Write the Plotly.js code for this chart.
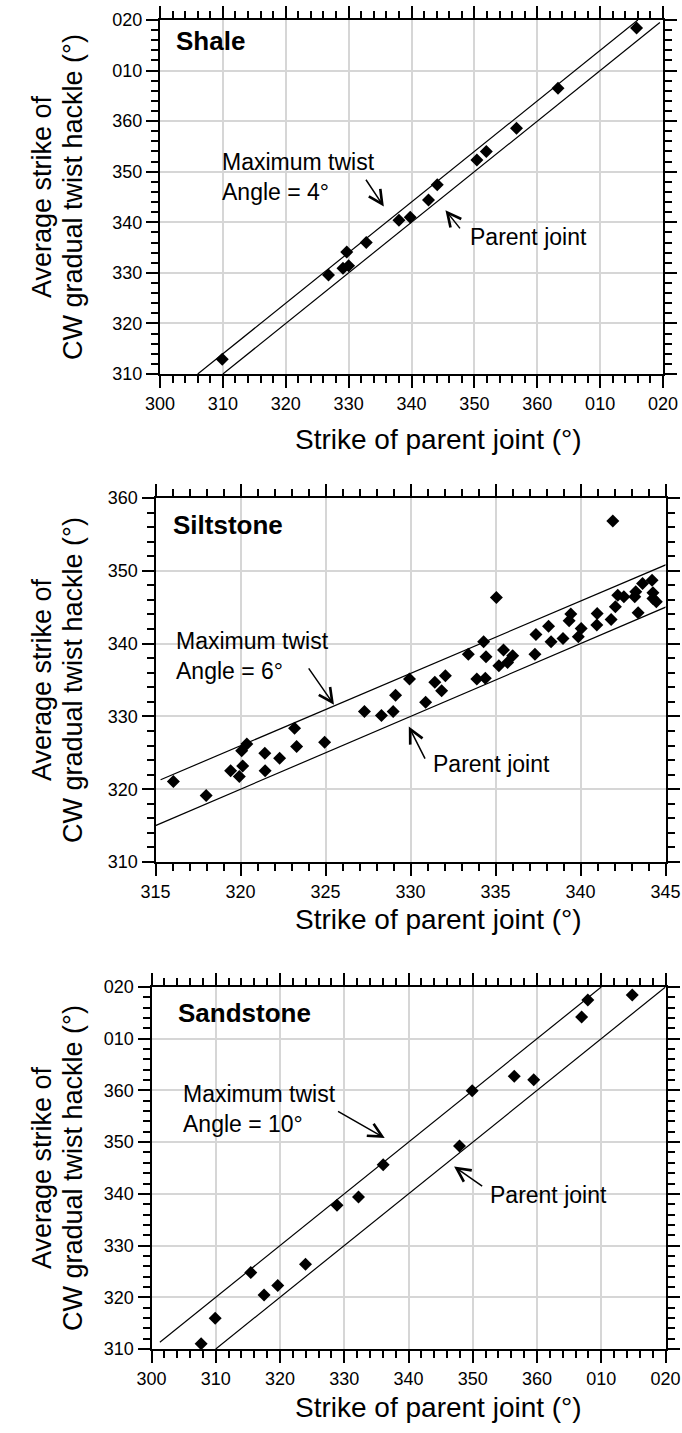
<!DOCTYPE html>
<html>
<head>
<meta charset="utf-8">
<script src="https://cdn.plot.ly/plotly-3.0.1.min.js"></script>
<style>html,body{margin:0;padding:0;background:#fff;}#chart{width:682px;height:1433px;}</style>
</head>
<body>
<div id="chart"></div>
<script>
// ---------- data ----------
const shaleX = [309.9, 326.8, 329.1, 330.0, 329.7, 332.8, 338.0, 339.8, 342.7, 344.1, 350.4, 351.9, 356.7, 363.3, 375.8];
const shaleY = [312.9, 329.6, 330.9, 331.4, 334.1, 336.0, 340.4, 341.0, 344.4, 347.4, 352.3, 354.0, 358.6, 366.5, 378.4];
const shaleParentX = [310, 379.5];
const shaleParentY = [310, 379.5];
const shaleTwistX = [306, 376];
const shaleTwistY = [310, 380];

const siltX = [316.05, 317.98, 319.42, 319.93, 320.13, 320.07, 320.37, 321.43, 321.45, 322.3, 323.18, 323.3, 324.95,
  327.29, 328.29, 328.98, 329.12, 329.94, 330.89, 331.43, 331.83, 332.05, 333.4, 333.9, 334.4, 334.3, 334.44, 335.05,
  335.2, 335.47, 335.71, 336.01, 337.32, 337.38, 338.12, 338.27, 338.97, 339.33, 339.43, 339.87, 340.04, 340.96, 340.98,
  341.8, 341.9, 342.05, 342.19, 342.55, 343.19, 343.25, 343.39, 343.65, 344.21, 344.26, 344.26, 344.46];
const siltY = [321.06, 319.14, 322.52, 321.75, 323.2, 325.27, 326.22, 324.95, 322.52, 324.26, 328.37, 325.86, 326.45,
  330.66, 330.11, 330.66, 332.9, 335.14, 331.94, 334.68, 333.54, 335.59, 338.52, 335.14, 335.23, 340.26, 338.2, 346.33,
  336.96, 339.11, 337.42, 338.34, 338.52, 341.26, 342.4, 340.26, 340.71, 343.13, 344.05, 340.94, 342.08, 342.54, 344.14,
  343.32, 356.85, 345.05, 346.65, 346.43, 346.43, 347.11, 344.23, 348.25, 348.71, 346.97, 346.2, 345.74];
const siltParentX = [315, 345.4];
const siltParentY = [315, 345.4];
const siltTwistX = [315.3, 345.4];
const siltTwistY = [321.3, 351.2];

const sandX = [307.72, 309.91, 315.45, 317.52, 319.65, 323.97, 328.87, 332.22, 336.06, 347.94, 349.91, 356.46, 359.49, 366.95, 367.91, 374.83];
const sandY = [311.02, 315.97, 324.77, 320.46, 322.26, 326.37, 337.8, 339.4, 345.64, 349.24, 359.96, 362.72, 362.08, 374.22, 377.5, 378.46];
const sandParentX = [310, 380];
const sandParentY = [310, 380];
const sandTwistX = [301.3, 370];
const sandTwistY = [311.3, 380];

const wrapAlias = {'370': '010', '380': '020'};
const xTitle = 'Strike of parent joint (°)';
const yTitle1 = 'Average strike of';
const yTitle2 = 'CW gradual twist hackle (°)';
const panelNames = ['Shale', 'Siltstone', 'Sandstone'];
const angleTexts = ['Maximum twist<br>Angle = 4°', 'Maximum twist<br>Angle = 6°', 'Maximum twist<br>Angle = 10°'];

// ---------- layout helpers ----------
const W = 682, H = 1433;
const FONT = 'Liberation Sans, Arial, Helvetica, sans-serif';
const dx = (a, b) => [a / W, b / W];
const dy = (t, b) => [1 - b / H, 1 - t / H];

function ax(extra, minorDtick, tick0) {
  return Object.assign({
    showline: true, linecolor: 'black', linewidth: 2, mirror: 'allticks',
    ticks: 'outside', ticklen: 12, tickwidth: 2, tickcolor: '#000000',
    showgrid: true, gridcolor: '#d6d6d6', gridwidth: 2, zeroline: false,
    tickfont: {family: FONT, size: 18, color: 'black'},
    minor: {tick0: tick0, dtick: minorDtick, ticklen: 7, tickwidth: 2, tickcolor: '#000000', ticks: 'outside', showgrid: false}
  }, extra);
}

const P = [
  {x: [160, 663], y: [20, 374], title: 440},
  {x: [155.5, 665.5], y: [498, 862], title: 920},
  {x: [151.5, 665.5], y: [987, 1349], title: 1407}
];

const layout = {
  width: W, height: H, margin: {l: 0, r: 0, t: 0, b: 0},
  paper_bgcolor: 'white', plot_bgcolor: 'white', showlegend: false,
  font: {family: FONT, color: 'black'},
  xaxis: ax({domain: dx(...P[0].x), anchor: 'y', range: [300, 380], tick0: 300, dtick: 10, labelalias: wrapAlias}, 2, 300),
  yaxis: ax({domain: dy(...P[0].y), anchor: 'x', range: [310, 380], tick0: 310, dtick: 10, labelalias: wrapAlias}, 2, 310),
  xaxis2: ax({domain: dx(...P[1].x), anchor: 'y2', range: [315, 345], tick0: 315, dtick: 5}, 1, 315),
  yaxis2: ax({domain: dy(...P[1].y), anchor: 'x2', range: [310, 360], tick0: 310, dtick: 10}, 2, 310),
  xaxis3: ax({domain: dx(...P[2].x), anchor: 'y3', range: [300, 380], tick0: 300, dtick: 10, labelalias: wrapAlias}, 2, 300),
  yaxis3: ax({domain: dy(...P[2].y), anchor: 'x3', range: [310, 380], tick0: 310, dtick: 10, labelalias: wrapAlias}, 2, 310),
  annotations: []
};

const traces = [];
const sets = [
  {xs: shaleX, ys: shaleY, px: shaleParentX, py: shaleParentY, tx: shaleTwistX, ty: shaleTwistY},
  {xs: siltX, ys: siltY, px: siltParentX, py: siltParentY, tx: siltTwistX, ty: siltTwistY},
  {xs: sandX, ys: sandY, px: sandParentX, py: sandParentY, tx: sandTwistX, ty: sandTwistY}
];
sets.forEach((s, i) => {
  const xa = i === 0 ? 'x' : 'x' + (i + 1);
  const ya = i === 0 ? 'y' : 'y' + (i + 1);
  traces.push({type: 'scatter', mode: 'lines', x: s.px, y: s.py, xaxis: xa, yaxis: ya, line: {color: 'black', width: 1.2}, hoverinfo: 'skip'});
  traces.push({type: 'scatter', mode: 'lines', x: s.tx, y: s.ty, xaxis: xa, yaxis: ya, line: {color: 'black', width: 1.2}, hoverinfo: 'skip'});
  traces.push({type: 'scatter', mode: 'markers', x: s.xs, y: s.ys, xaxis: xa, yaxis: ya,
    marker: {symbol: 'diamond', size: 10, color: 'black', line: {width: 0}}, cliponaxis: false});
});

const annPos = [
  {label: [302.2, 375.9], text: [309.6, 348.9], tw: {h: [335.6, 343.1], t: [332.6, 348.7]}, pj: {h: [345.4, 342.4], t: [347.9, 338.5]}, pjText: [349.0, 337.0]},
  {label: [315.9, 356.25], text: [316.1, 338.24], tw: {h: [325.5, 331.6], t: [323.95, 336.8]}, pj: {h: [329.9, 328.6], t: [330.9, 324.0]}, pjText: [331.2, 323.5]},
  {label: [303.8, 374.9], text: [304.6, 356.5], tw: {h: [336.3, 350.8], t: [328.8, 356.1]}, pj: {h: [347.1, 345.3], t: [351.7, 341.3]}, pjText: [352.3, 339.7]}
];
annPos.forEach((a, i) => {
  const xa = i === 0 ? 'x' : 'x' + (i + 1);
  const ya = i === 0 ? 'y' : 'y' + (i + 1);
  const A = layout.annotations;
  A.push({xref: xa, yref: ya, x: a.label[0], y: a.label[1], text: '<b>' + panelNames[i] + '</b>', showarrow: false,
    xanchor: 'left', yanchor: 'middle', font: {family: FONT, size: 26, color: 'black'}});
  A.push({xref: xa, yref: ya, x: a.text[0], y: a.text[1], text: angleTexts[i], showarrow: false, align: 'left',
    xanchor: 'left', yanchor: 'middle', font: {family: FONT, size: 23, color: 'black'}});
  A.push({xref: xa, yref: ya, x: a.pjText[0], y: a.pjText[1], text: 'Parent joint', showarrow: false,
    xanchor: 'left', yanchor: 'middle', font: {family: FONT, size: 23, color: 'black'}});
  [a.tw, a.pj].forEach(ar => {
    A.push({xref: xa, yref: ya, axref: xa, ayref: ya, x: ar.h[0], y: ar.h[1], ax: ar.t[0], ay: ar.t[1], text: '',
      showarrow: true, arrowhead: 5, arrowsize: 1.8, arrowwidth: 1.5, arrowcolor: 'black', standoff: 0, startstandoff: 0});
  });
  const p = P[i];
  A.push({xref: 'paper', yref: 'paper', x: 438 / W, y: 1 - p.title / H, text: xTitle, showarrow: false,
    xanchor: 'center', yanchor: 'middle', font: {family: FONT, size: 28, color: 'black'}});
  const yc = 1 - ((p.y[0] + p.y[1]) / 2) / H;
  A.push({xref: 'paper', yref: 'paper', x: 42 / W, y: yc, text: yTitle1, showarrow: false,
    textangle: -90, xanchor: 'center', yanchor: 'middle', font: {family: FONT, size: 27, color: 'black'}});
  A.push({xref: 'paper', yref: 'paper', x: 73 / W, y: yc, text: yTitle2, showarrow: false,
    textangle: -90, xanchor: 'center', yanchor: 'middle', font: {family: FONT, size: 27, color: 'black'}});
});

Plotly.newPlot('chart', traces, layout, {displayModeBar: false});
</script>
</body>
</html>
